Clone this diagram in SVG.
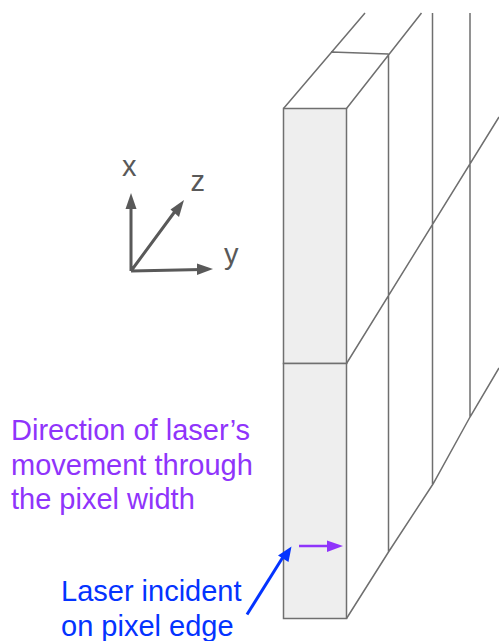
<svg xmlns="http://www.w3.org/2000/svg" width="499" height="641" viewBox="0 0 499 641">
<defs>
<style>
.l{fill:none;stroke:#6f6f6f;stroke-width:1.5}
.f{fill:#eeeeee;stroke:#6f6f6f;stroke-width:1.5}
.t{font-family:"Liberation Sans",Arial,sans-serif;font-size:29px}
.ax{stroke:#595959;stroke-width:3;fill:none}
</style>
</defs>
<rect width="499" height="641" fill="#fff"/>
<g id="pixels">
<rect class="f" x="283.5" y="108.5" width="63" height="255"/>
<rect class="f" x="283.5" y="363.5" width="63" height="255"/>
</g>
<g id="connectors">
<path class="l" d="M283.500 108.500L365 13M346.500 108.500L421.500 13M331 52L388.500 54M388.500 54V552M432.500 13V484M470 13V417M346.500 363.500L499 117M346.500 618.500L388.500 552L433 484L470 417L499 368"/>
<path class="ax" d="M131 271V205M131 271L176 210M131 271L202 269.500"/>
<path d="M131 193L125.500 209H136.500Z" fill="#595959"/>
<path d="M184 200L170.500 209.500L179 217Z" fill="#595959"/>
<path d="M213 269L197 263.500V275Z" fill="#595959"/>
<path d="M299 546H334" stroke="#8f34fb" stroke-width="2.700" fill="none"/>
<path d="M343 546L327 540.500V552Z" fill="#8f34fb"/>
<path d="M247 614.500L283 557" stroke="#0433ff" stroke-width="3" fill="none"/>
<path d="M291.500 546.500L278 555.500L288.500 562Z" fill="#0433ff"/>
</g>
<g id="axis-labels" class="t" fill="#595959">
<text x="122" y="175.500">x</text>
<text x="190.500" y="190.500">z</text>
<text x="224" y="263.500">y</text>
</g>
<g id="direction-label" class="t" fill="#8f34fb">
<text x="11" y="440">Direction of laser’s</text>
<text x="11" y="475">movement through</text>
<text x="11" y="509">the pixel width</text>
</g>
<g id="laser-label" class="t" fill="#0433ff">
<text x="61" y="601">Laser incident</text>
<text x="61" y="636">on pixel edge</text>
</g>
</svg>
